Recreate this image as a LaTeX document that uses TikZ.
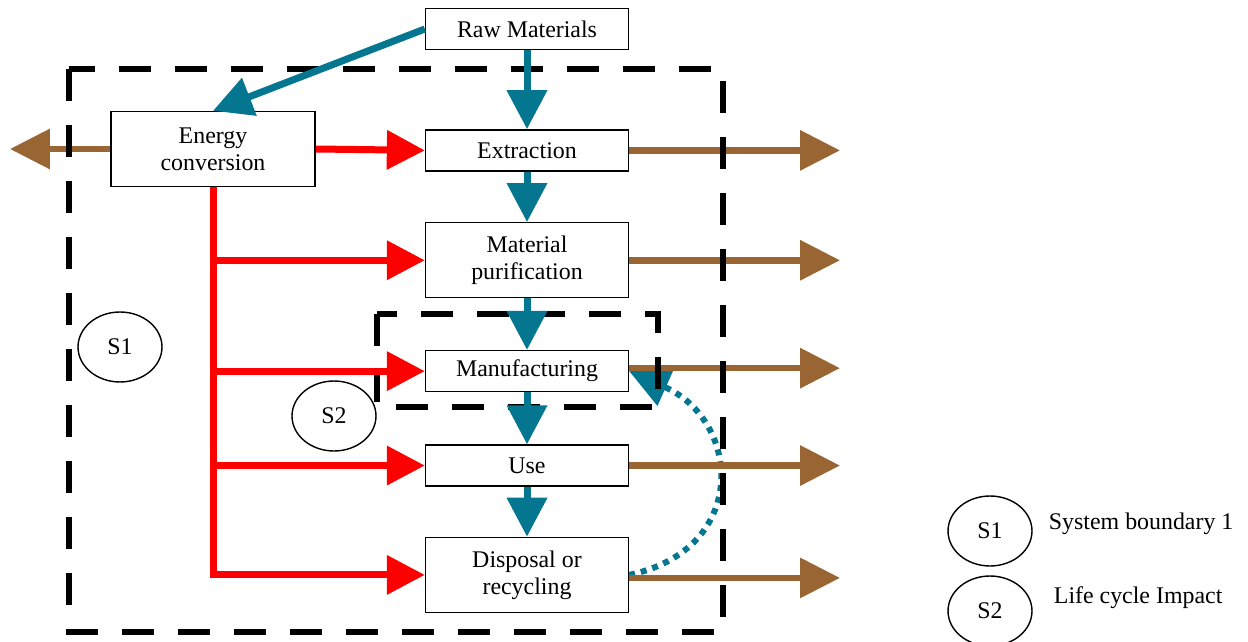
\documentclass[tikz,border=0pt]{standalone}
\usepackage{fontspec}
\setmainfont{Liberation Serif}
\usepackage{xcolor}
\usepackage{tikz}
\usetikzlibrary{shapes,arrows.meta,positioning,calc,backgrounds}

\definecolor{flowteal}{RGB}{5,118,143}
\definecolor{outbrown}{RGB}{153,102,51}

\begin{document}
\begin{tikzpicture}[
  x=0.02cm, y=-0.02cm,
  box/.style={rectangle, draw, thick, fill=white, minimum width=4.06cm, minimum height=0.82cm, align=center, font=\fontsize{13.6}{15.5}\selectfont},
  tallbox/.style={box, minimum height=1.5cm},
  tag/.style={ellipse, draw, thick, fill=white, minimum width=1.68cm, minimum height=1.4cm, inner sep=0pt, font=\fontsize{13.6}{15.5}\selectfont},
  legtext/.style={font=\fontsize{13.6}{15.5}\selectfont},
  tealarrow/.style={draw=flowteal, line width=0.14cm, -{Triangle[length=0.78cm, width=0.78cm]}, flowteal},
  redarrow/.style={draw=red, line width=0.14cm, -{Triangle[length=0.76cm, width=0.76cm]}, red},
  brownarrow/.style={draw=outbrown, line width=0.13cm, -{Triangle[length=0.8cm, width=0.78cm]}, outbrown},
  recyc/.style={draw=flowteal, line width=0.12cm, dash pattern=on 0.12cm off 0.12cm, -{Triangle[length=0.8cm, width=0.78cm]}, flowteal},
  bound/.style={line width=0.11cm, dash pattern=on 0.64cm off 0.48cm}
]
\useasboundingbox (0,0) rectangle (1248,642);

\node[box] (raw) at (527,29) {Raw Materials};
\node[tallbox, minimum width=4.08cm] (energy) at (213,149) {Energy\\conversion};
\node[box, below=1.58cm of raw] (extr) {Extraction};
\node[tallbox, below=1.01cm of extr] (purif) {Material\\purification};
\node[box, below=1.03cm of purif] (manuf) {Manufacturing};
\node[box, below=1.04cm of manuf] (use) {Use};
\node[tallbox, below=1.0cm of use] (disp) {Disposal or\\recycling};

\coordinate (rout) at (840,0);
\coordinate (lout) at (10,0);

\begin{scope}[on background layer]
\draw[recyc] (disp.east) to[out=12, in=-24, looseness=1.55] (manuf.east);
\draw[brownarrow] (extr.east) -- (extr.east -| rout);
\draw[brownarrow] (purif.east) -- (purif.east -| rout);
\draw[brownarrow] ([yshift=0.06cm]manuf.east) -- ([yshift=0.06cm]manuf.east -| rout);
\draw[brownarrow] (use.east) -- (use.east -| rout);
\draw[brownarrow] ([yshift=-0.06cm]disp.east) -- ([yshift=-0.06cm]disp.east -| rout);
\draw[brownarrow] (energy.west) -- (energy.west -| lout);
\draw[bound] (69,69) rectangle (723,632);
\draw[bound] (377,314) rectangle (658,407);
\end{scope}

\draw[tealarrow] (raw.west) -- (energy.north);
\draw[tealarrow] (raw) -- (extr);
\draw[tealarrow] (extr) -- (purif);
\draw[tealarrow] (purif) -- (manuf);
\draw[tealarrow] (manuf) -- (use);
\draw[tealarrow] (use) -- (disp);

\draw[redarrow] (energy.east) -- (extr.west);
\draw[redarrow] (energy.south) |- (disp.west);
\foreach \n in {purif,manuf,use}
  \draw[redarrow] (energy.south |- \n.west) -- (\n.west);

\node[tag] (s1) at (120,347) {S1};
\node[tag] (s2) at (334,416) {S2};

\node[tag] (leg1) at (990,531) {S1};
\node[legtext, right=0.2cm of leg1, yshift=0.14cm] (leg1txt) {System boundary 1};
\node[tag] (leg2) at (990,611) {S2};
\node[legtext, right=0.3cm of leg2, yshift=0.26cm] (leg2txt) {Life cycle Impact};

\end{tikzpicture}
\end{document}
